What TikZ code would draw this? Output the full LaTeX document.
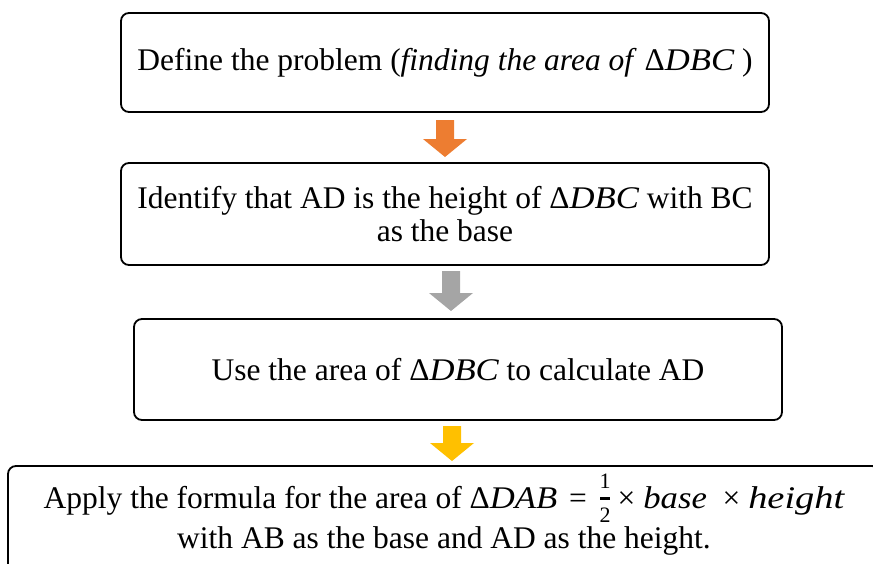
\documentclass[tikz,border=0pt]{standalone}
\usepackage{fontspec}
\setmainfont{Liberation Serif}
\newfontfamily\mathfnt{Liberation Serif}[FakeStretch=1.1]
\newfontfamily\mathwide{Liberation Serif}[FakeStretch=1.22]
\newcommand{\mth}[1]{{\mathfnt\itshape #1}}
\newcommand{\mthw}[1]{{\mathwide\itshape #1}}
\newcommand{\fracdigit}[1]{\makebox[13pt]{\fontsize{22}{22}\selectfont #1}}
\newcommand{\halffrac}{\smash{\makebox[13pt][l]{%
  \rlap{\raisebox{20pt}{\fracdigit{1}}}%
  \raisebox{-14pt}{\fracdigit{2}}}}}
\definecolor{aorange}{HTML}{ED7D31}
\definecolor{agray}{HTML}{A5A5A5}
\definecolor{ayellow}{HTML}{FFC000}
\newcommand{\blockarrow}[4]{% colour, center x, top y, headstart y
  \fill[#1] (#2-9,#3) -- (#2+9,#3) -- (#2+9,#4) -- (#2+22,#4) -- (#2,#4+18) -- (#2-22,#4) -- (#2-9,#4) -- cycle;}
\begin{document}
\begin{tikzpicture}[x=1pt,y=-1pt,
  stepbox/.style={draw=black, line width=1.8pt, rounded corners=8pt, fill=white,
    align=center, inner sep=0pt, font=\fontsize{31.5}{33}\selectfont}]
\useasboundingbox (0,0) rectangle (873,563);
\clip (0,0) rectangle (873,563);
\node[stepbox, minimum width=648pt, minimum height=99pt] (b1) at (445,62.5)
  {Define the problem (\textit{finding the area of} Δ\mth{DBC} )};
\node[stepbox, minimum width=648pt, minimum height=102pt] (b2) at (445,214)
  {Identify that AD is the height of Δ\mth{DBC} with BC\\as the base};
\node[stepbox, minimum width=648pt, minimum height=101pt] (b3) at (458,369.5)
  {Use the area of Δ\mth{DBC} to calculate AD};
\node[stepbox, minimum width=872pt, minimum height=110pt] (b4) at (444,521)
  {Apply the formula for the area of Δ\mth{DAB}\hspace{4pt} =\hspace{4pt} \halffrac\hspace{6pt}× \mth{base} \ × \mthw{height}\\[7pt]with AB as the base and AD as the height.};
\coordinate (fracbar) at (604.5,498.5);
\fill[black] ([xshift=-5pt,yshift=-1.1pt]fracbar) rectangle ([xshift=5pt,yshift=1.1pt]fracbar);
\blockarrow{aorange}{445}{120}{139}
\blockarrow{agray}{451}{271}{293}
\blockarrow{ayellow}{452}{426}{443}
\end{tikzpicture}
\end{document}
